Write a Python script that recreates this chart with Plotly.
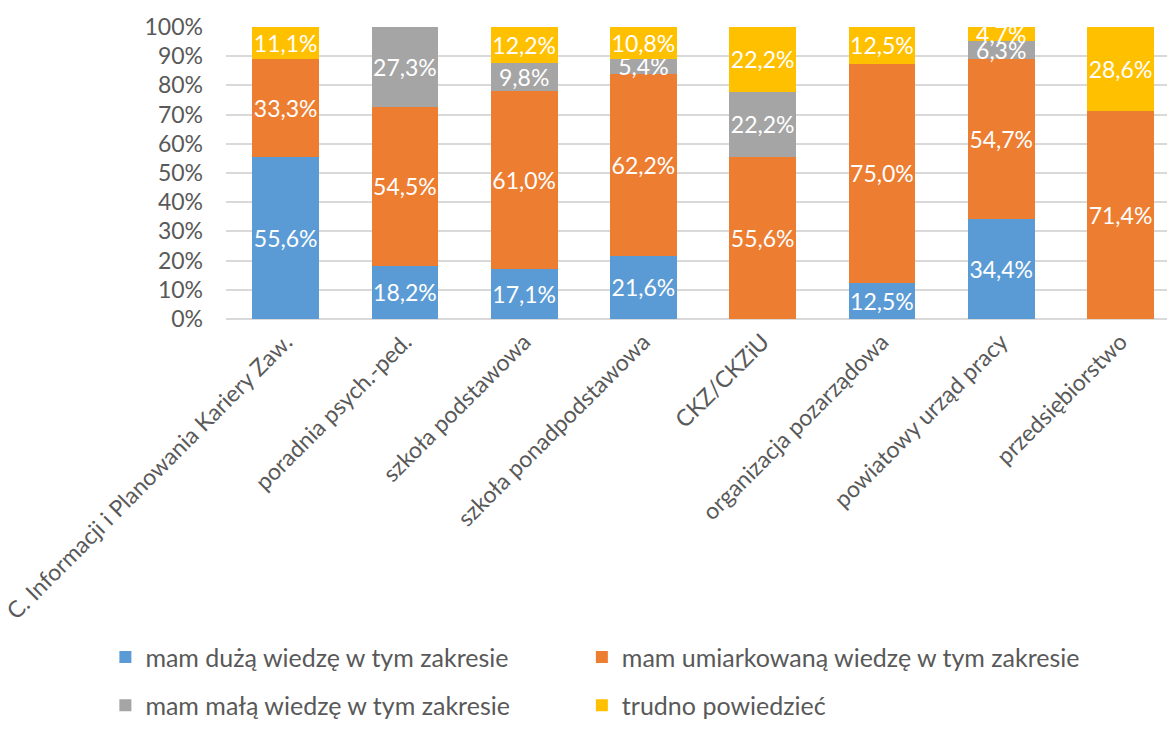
import plotly.graph_objects as go

categories = [
    "C. Informacji i Planowania Kariery Zaw.",
    "poradnia psych.-ped.",
    "szkoła podstawowa",
    "szkoła ponadpodstawowa",
    "CKZ/CKZiU",
    "organizacja pozarządowa",
    "powiatowy urząd pracy",
    "przedsiębiorstwo",
]

duza = [55.6, 18.2, 17.1, 21.6, 0.0, 12.5, 34.4, 0.0]
umiarkowana = [33.3, 54.5, 61.0, 62.2, 55.6, 75.0, 54.7, 71.4]
mala = [0.0, 27.3, 9.8, 5.4, 22.2, 0.0, 6.3, 0.0]
trudno = [11.1, 0.0, 12.2, 10.8, 22.2, 12.5, 4.7, 28.6]

series = [
    ("mam dużą wiedzę w tym zakresie", duza, "#5B9BD5"),
    ("mam umiarkowaną wiedzę w tym zakresie", umiarkowana, "#ED7D31"),
    ("mam małą wiedzę w tym zakresie", mala, "#A5A5A5"),
    ("trudno powiedzieć", trudno, "#FFC000"),
]

FONT = "Lato"
GREY = "#595959"

W, H = 1167, 729
L, T = 223, 27
PLOT_BOTTOM = 324
B = H - PLOT_BOTTOM
PLOT_W = W - L
PLOT_H = PLOT_BOTTOM - T

# legend grid: two columns, two rows (pixel anchors)
LEG_COLS = [102, 580]
LEG_ROWS = [668, 717]


def label(v):
    return (f"{v:.1f}".replace(".", ",") + "%") if v else ""


fig = go.Figure()
legend_layouts = {}
for i, (name, vals, color) in enumerate(series):
    leg_id = "legend" if i == 0 else f"legend{i + 1}"
    fig.add_trace(go.Bar(
        x=categories,
        y=vals,
        name=name,
        showlegend=True,
        marker=dict(color=color, line=dict(width=0)),
        text=[label(v) for v in vals],
        textposition="inside",
        insidetextanchor="middle",
        constraintext="none",
        textangle=0,
        textfont=dict(family=FONT, size=23, color="white"),
        legend=leg_id,
        hoverinfo="skip",
    ))
    col, row = i % 2, i // 2
    legend_layouts[leg_id] = dict(
        orientation="h",
        x=(LEG_COLS[col] - L) / PLOT_W,
        xanchor="left",
        y=(PLOT_BOTTOM - LEG_ROWS[row]) / PLOT_H,
        yanchor="middle",
        font=dict(family=FONT, size=25, color=GREY),
        bgcolor="rgba(0,0,0,0)",
    )

fig.update_layout(
    width=W,
    height=H,
    margin=dict(l=L, r=0, t=T, b=B),
    showlegend=True,
    barmode="stack",
    barnorm="percent",
    bargap=0.44,
    plot_bgcolor="white",
    paper_bgcolor="white",
    font=dict(family=FONT, color=GREY),
    xaxis=dict(
        range=[-0.5, 7.39],
        tickangle=-45,
        tickfont=dict(family=FONT, size=23, color=GREY),
        showgrid=False,
        showline=False,
        ticks="",
        ticklabelstandoff=4,
    ),
    yaxis=dict(
        range=[0, 100],
        dtick=10,
        ticksuffix="%",
        tickfont=dict(family=FONT, size=23, color=GREY),
        gridcolor="#D9D9D9",
        gridwidth=1.5,
        zeroline=True,
        zerolinecolor="#D9D9D9",
        zerolinewidth=1.5,
        showline=False,
        ticks="",
        ticklabelstandoff=22,
    ),
    **legend_layouts,
)

fig.write_html("out.html")
